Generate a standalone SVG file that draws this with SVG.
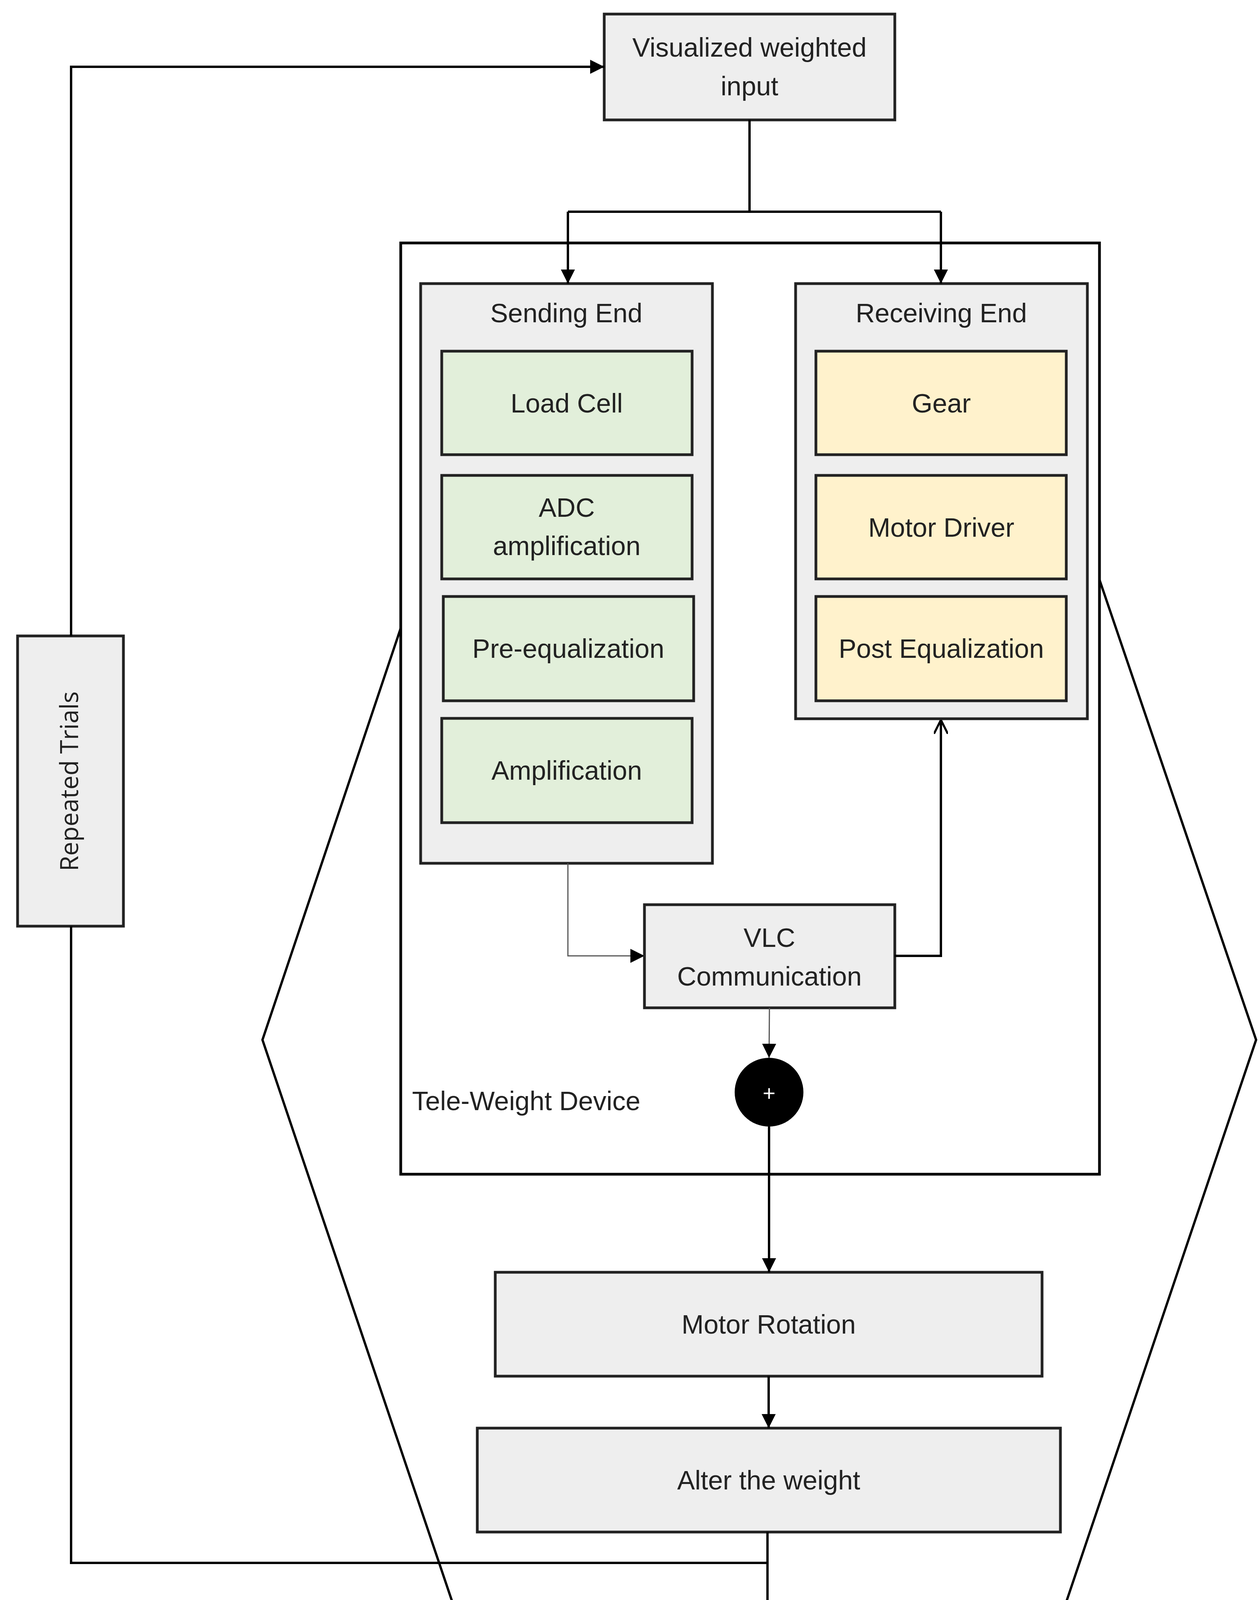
<svg xmlns="http://www.w3.org/2000/svg" width="3226" height="5120" viewBox="0 0 3226 5120">
<defs>
<style>
.b{stroke:#222;stroke-width:7;fill:#eeeeee}
.g{stroke:#222;stroke-width:7;fill:#e2efda}
.y{stroke:#222;stroke-width:7;fill:#fff2cc}
.l{stroke:#000;stroke-width:6;fill:none}
text{font-family:"Liberation Sans",Arial,sans-serif;font-size:68px;fill:#222;text-anchor:middle}
</style>
<marker id="a" viewBox="0 0 10 10" refX="9" refY="5" markerWidth="6" markerHeight="6" markerUnits="userSpaceOnUse" orient="auto"><path d="M0,0L10,5L0,10z" fill="#000"/></marker>
<marker id="ar" viewBox="0 0 10 10" refX="10" refY="5" markerWidth="36" markerHeight="36" markerUnits="userSpaceOnUse" orient="auto"><path d="M0,0L10,5L0,10z" fill="#000"/></marker>
<marker id="ao" viewBox="0 0 10 10" refX="10" refY="5" markerWidth="36" markerHeight="36" markerUnits="userSpaceOnUse" orient="auto"><path d="M0,0L10,5L0,10" fill="none" stroke="#000" stroke-width="1.5"/></marker>
</defs>
<g id="hexagon"><polyline class="l" points="1026,1608 672,2662 1307,4542 2581,4542 3216,2662 2815,1484"/></g>
<g id="tele-weight-device"><rect x="1026" y="622" width="1789" height="2384" fill="#fff" stroke="#000" stroke-width="7"/><text x="1055" y="2842" style="text-anchor:start">Tele-Weight Device</text></g>
<g id="visualized"><rect class="b" x="1547" y="36" width="744" height="271"/><text x="1919" y="145">Visualized weighted</text><text x="1919" y="244">input</text></g>
<g id="repeated"><rect class="b" x="45" y="1628" width="271" height="743"/><text transform="translate(200,2000) rotate(-90)" style="font-family:'Open Sans','DejaVu Sans',sans-serif;font-size:64px">Repeated Trials</text></g>
<g id="sending"><rect class="b" x="1077" y="726" width="747" height="1484"/><text x="1450" y="825">Sending End</text>
<rect class="g" x="1131" y="899" width="641" height="265"/><text x="1451" y="1056">Load Cell</text>
<rect class="g" x="1131" y="1217" width="641" height="265"/><text x="1451" y="1323">ADC</text><text x="1451" y="1421">amplification</text>
<rect class="g" x="1135" y="1527" width="641" height="267"/><text x="1455" y="1684">Pre-equalization</text>
<rect class="g" x="1131" y="1839" width="641" height="267"/><text x="1451" y="1996">Amplification</text></g>
<g id="receiving"><rect class="b" x="2037" y="726" width="747" height="1114"/><text x="2410" y="825">Receiving End</text>
<rect class="y" x="2089" y="899" width="641" height="265"/><text x="2410" y="1056">Gear</text>
<rect class="y" x="2089" y="1217" width="641" height="265"/><text x="2410" y="1374">Motor Driver</text>
<rect class="y" x="2089" y="1527" width="641" height="267"/><text x="2410" y="1684">Post Equalization</text></g>
<g id="vlc"><rect class="b" x="1650" y="2316" width="641" height="264"/><text x="1970" y="2424">VLC</text><text x="1970" y="2523">Communication</text></g>
<g id="sum"><circle cx="1969" cy="2796" r="88" fill="#000"/><text x="1969" y="2818" style="fill:#fff;font-size:56px">+</text></g>
<g id="motor"><rect class="b" x="1268" y="3257" width="1400" height="266"/><text x="1968" y="3414">Motor Rotation</text></g>
<g id="alter"><rect class="b" x="1222" y="3656" width="1493" height="266"/><text x="1968" y="3813">Alter the weight</text></g>
<g id="perf"><rect class="b" x="1514" y="4186" width="899" height="266"/><text x="1963" y="4343">Performance Evaluation</text></g>
<g id="metrics"><rect class="b" x="2153" y="4610" width="1036" height="477"/><text x="2671" y="4722">Confusion Matrix</text><text x="2671" y="4822">Accuracy</text><text x="2671" y="4920">Coverage Range</text><text x="2671" y="5017">Time Factor</text></g>
<g id="connectors">
<polyline class="l" points="1919,307 1919,542"/>
<polyline class="l" points="1454,542 2409,542"/>
<polyline class="l" points="1454,542 1454,726" marker-end="url(#ar)"/>
<polyline class="l" points="2409,542 2409,726" marker-end="url(#ar)"/>
<polyline points="1454,2210 1454,2447 1650,2447" fill="none" stroke="#555" stroke-width="3" marker-end="url(#ar)"/>
<polyline class="l" points="2291,2447 2409,2447 2409,1843" marker-end="url(#ao)"/>
<polyline points="1970,2580 1969,2708" fill="none" stroke="#555" stroke-width="3" marker-end="url(#ar)"/>
<polyline class="l" points="1969,2884 1969,3257" marker-end="url(#ar)"/>
<polyline class="l" points="1968,3523 1968,3656" marker-end="url(#ar)"/>
<polyline class="l" points="1965,3922 1965,4186" marker-end="url(#ar)"/>
<polyline class="l" points="1965,4001 182,4001 182,2371"/>
<polyline class="l" points="182,1628 182,171 1547,171" marker-end="url(#ar)"/>
<polyline class="l" points="1965,4452 1965,4769 2150,4769" marker-end="url(#ar)"/>
</g>
</svg>
